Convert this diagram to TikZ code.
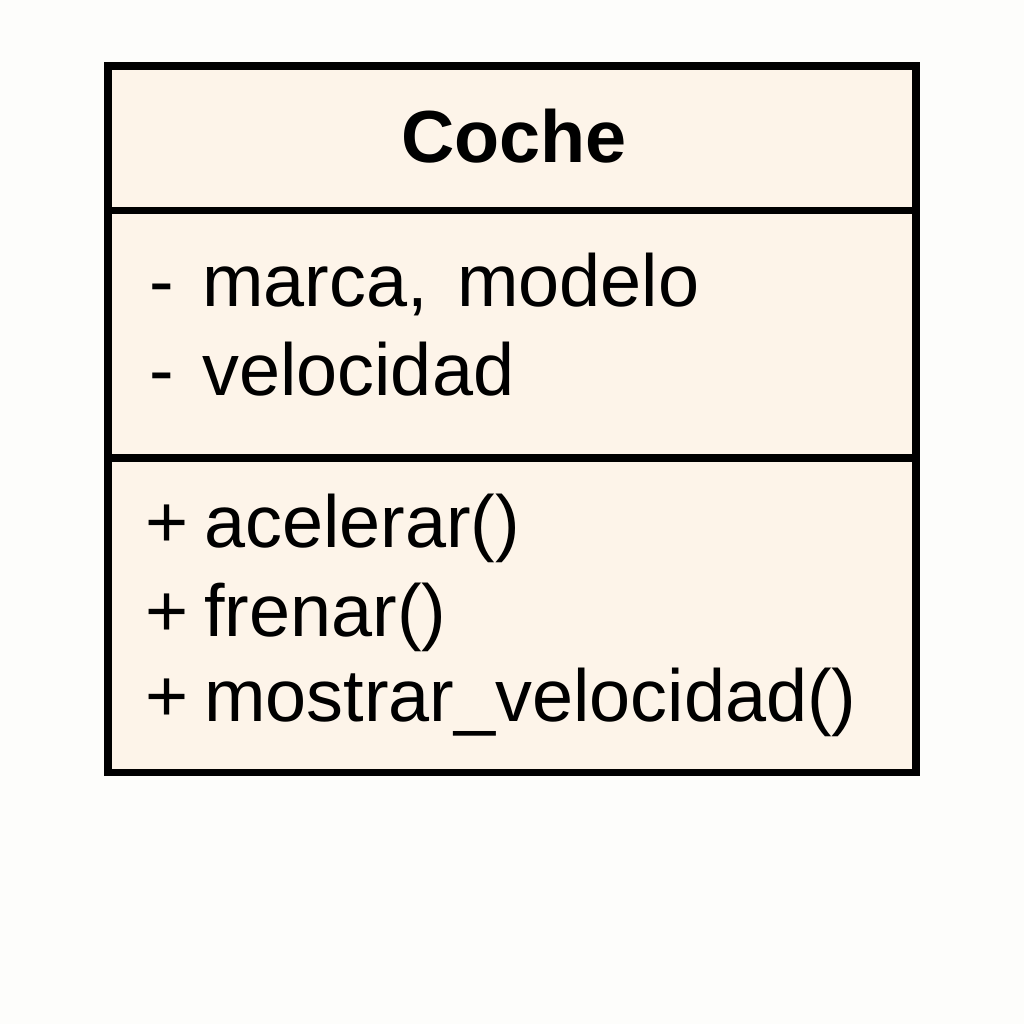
\documentclass[tikz,border=0pt]{standalone}
\usepackage{fontspec}
\setmainfont{Liberation Sans}
\definecolor{paper}{HTML}{FDFDFB}
\definecolor{classfill}{HTML}{FDF4E9}
\definecolor{inkblack}{HTML}{000000}

\tikzset{
  umlline/.style={inkblack, line width=2pt},
  member/.style={text=inkblack, inner sep=0pt, anchor=base west,
    font=\fontsize{21}{25}\selectfont},
  classname/.style={text=inkblack, inner sep=0pt, anchor=base,
    font=\fontsize{21}{25}\selectfont\bfseries}
}

\begin{document}
\begin{tikzpicture}

% Background
\fill[paper] (0,0) rectangle (10.24,10.24);
\useasboundingbox (0,0) rectangle (10.24,10.24);

% Class box with three compartments
\fill[classfill] (1.08,2.515) rectangle (9.16,9.58);
\coordinate (divA) at (1.08,8.135);
\coordinate (divB) at (1.08,5.66);
\draw[umlline] (divA) -- ++(8.08,0);
\draw[umlline] (divB) -- ++(8.08,0);
\draw[umlline] (1.08,2.515) rectangle (9.16,9.58);

% Class name
\node[classname] (name) at (5.14,8.61) {Coche};

% Attributes
\node[member] (attrA) at (1.49,7.17) {-\hspace{0.38em}marca,\hspace{0.12em} modelo};
\node[member] (attrB) at (1.49,6.28) {-\hspace{0.38em}velocidad};

% Methods
\node[member] (methA) at (1.45,4.76) {+\hspace{0.21em}acelerar()};
\node[member] (methB) at (1.45,3.87) {+\hspace{0.21em}frenar()};
\node[member] (methC) at (1.45,3.02) {+\hspace{0.21em}mostrar\_velocidad()};

\end{tikzpicture}
\end{document}
